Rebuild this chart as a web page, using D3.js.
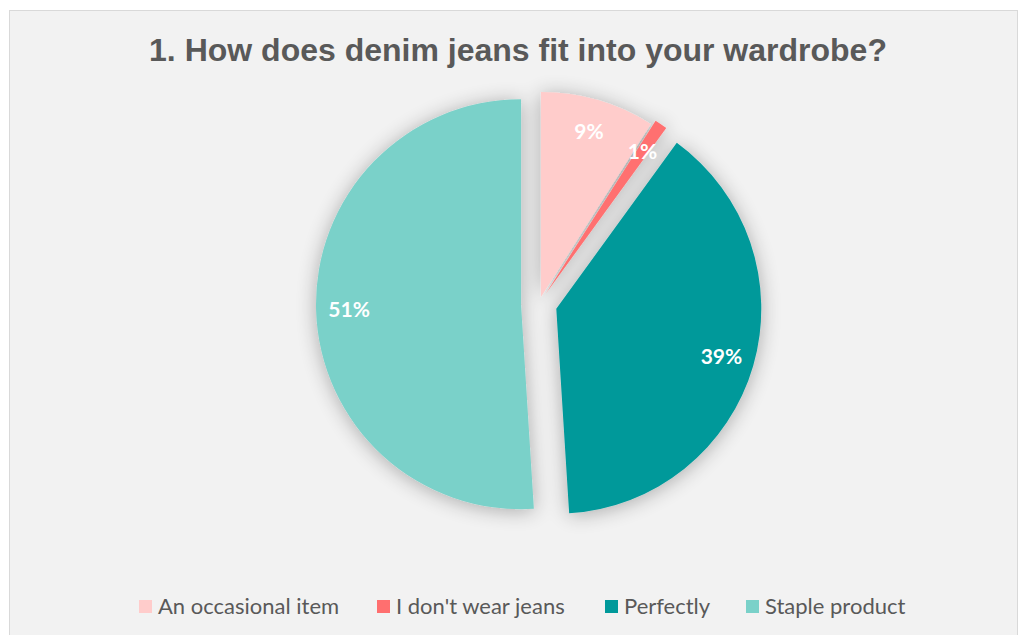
<!DOCTYPE html>
<html>
<head>
<meta charset="utf-8">
<script src="https://cdn.jsdelivr.net/npm/d3@7"></script>
<style>
  html, body { margin: 0; padding: 0; background: #ffffff; }
  svg { display: block; }
</style>
</head>
<body>
<svg id="chart" width="1018" height="635"></svg>
<script>
// ---- data ----
const title = "1. How does denim jeans fit into your wardrobe?";
const categories = ["An occasional item", "I don't wear jeans", "Perfectly", "Staple product"];
const values = [9, 1, 39, 51];
const labels = ["9%", "1%", "39%", "51%"];

// ---- style ----
const colors = ["#FFCCCB", "#FF6F6F", "#00999A", "#7AD1C9"];
const explode = [7, 12, 18, 18];
const W = 1018, H = 635;
const cx = 539, cy = 303.7, R = 205, labelR = 172;

const svg = d3.select("#chart");

const defs = svg.append("defs");
const f = defs.append("filter").attr("id", "shadow")
  .attr("x", "-30%").attr("y", "-30%").attr("width", "160%").attr("height", "160%");
f.append("feGaussianBlur").attr("in", "SourceAlpha").attr("stdDeviation", 10).attr("result", "blur");
f.append("feOffset").attr("in", "blur").attr("dx", 0).attr("dy", 2).attr("result", "off");
f.append("feComponentTransfer").attr("in", "off").attr("result", "sh")
  .append("feFuncA").attr("type", "linear").attr("slope", 0.3);
const m = f.append("feMerge");
m.append("feMergeNode").attr("in", "sh");
m.append("feMergeNode").attr("in", "SourceGraphic");

// panel
svg.append("rect").attr("x", 9.5).attr("y", 10.5).attr("width", W - 10).attr("height", H - 10)
  .attr("fill", "#F2F2F2").attr("stroke", "#D9D9D9").attr("stroke-width", 1);

// title
svg.append("text").attr("x", 518).attr("y", 61).attr("text-anchor", "middle")
  .attr("font-family", "'Liberation Sans', Arial, sans-serif").attr("font-weight", "bold")
  .attr("font-size", 32).attr("fill", "#595959").text(title);

const pie = d3.pie().sort(null).value(d => d)(values);
const arc = d3.arc().innerRadius(0).outerRadius(R);

const g = svg.append("g").attr("transform", `translate(${cx},${cy})`);
const slices = g.append("g").attr("filter", "url(#shadow)");

function off(d, i) {
  const mid = (d.startAngle + d.endAngle) / 2;
  return [Math.sin(mid) * explode[i], -Math.cos(mid) * explode[i]];
}

slices.selectAll("path").data(pie).join("path")
  .attr("transform", (d, i) => { const o = off(d, i); return `translate(${o[0]},${o[1]})`; })
  .attr("d", arc)
  .attr("fill", (d, i) => colors[i]);

g.selectAll("text.lbl").data(pie).join("text").attr("class", "lbl")
  .attr("x", (d, i) => off(d, i)[0] + Math.sin((d.startAngle + d.endAngle) / 2) * labelR)
  .attr("y", (d, i) => off(d, i)[1] - Math.cos((d.startAngle + d.endAngle) / 2) * labelR)
  .attr("dy", "0.35em")
  .attr("text-anchor", "middle")
  .attr("font-family", "Lato, 'Open Sans', sans-serif").attr("font-weight", "bold")
  .attr("font-size", 21).attr("fill", "#FFFFFF")
  .text((d, i) => labels[i]);

// legend
const legendX = [139, 377, 605, 746];
const lg = svg.append("g");
categories.forEach((c, i) => {
  lg.append("rect").attr("x", legendX[i]).attr("y", 600).attr("width", 13).attr("height", 13)
    .attr("fill", colors[i]);
  lg.append("text").attr("x", legendX[i] + 19).attr("y", 614)
    .attr("font-family", "Lato, 'Open Sans', sans-serif").attr("font-size", 22)
    .attr("fill", "#595959").text(c);
});
</script>
</body>
</html>
